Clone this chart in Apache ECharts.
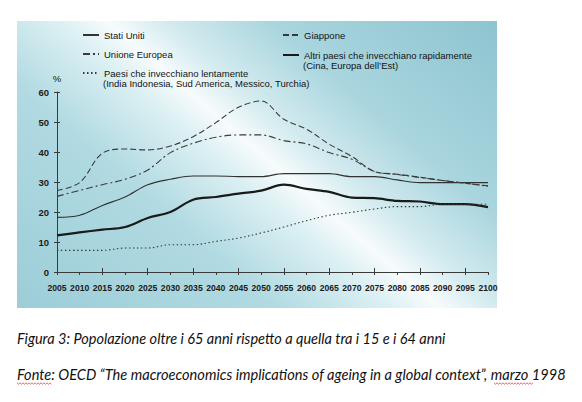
<!DOCTYPE html>
<html>
<head>
<meta charset="utf-8">
<script src="https://cdn.jsdelivr.net/npm/echarts@6/dist/echarts.min.js"></script>
<style>
html,body{margin:0;padding:0;background:#fff;}
#c{width:582px;height:402px;}
</style>
</head>
<body>
<div id="c"></div>
<script>
var years = ['2005','2010','2015','2020','2025','2030','2035','2040','2045','2050','2055','2060','2065','2070','2075','2080','2085','2090','2095','2100'];
var yTicks = [0, 10, 20, 30, 40, 50, 60];
var statiUniti = [18.2,18.9,22.2,25.0,29.1,30.9,32.0,32.0,31.8,31.8,32.8,32.8,32.8,31.8,31.8,30.7,29.8,29.8,29.8,29.8];
var giappone = [27.2,29.8,39.6,41.0,40.7,42.0,45.1,49.8,54.9,57.0,50.9,47.6,42.6,38.5,33.5,32.6,31.6,30.5,29.6,28.7];
var unioneEuropea = [25.2,27.2,29.1,30.9,34.0,39.8,42.9,44.9,45.7,45.7,43.8,42.7,39.8,37.6,33.5,32.5,31.5,30.5,29.6,28.6];
var altriRapidi = [12.2,13.2,14.1,15.0,18.0,20.0,24.1,25.0,26.1,27.1,29.1,27.7,26.7,24.8,24.6,23.7,23.5,22.6,22.6,21.6];
var lentamente = [7.2,7.2,7.2,8.0,8.0,9.1,9.1,10.2,11.3,13.0,15.0,17.1,18.9,19.9,21.0,21.8,21.8,22.6,22.6,22.6];

var names = {
  us: 'Stati Uniti',
  jp: 'Giappone',
  eu: 'Unione Europea',
  rapid: 'Altri paesi che invecchiano rapidamente',
  slow: 'Paesi che invecchiano lentamente'
};
var captions = [
  'Figura 3: Popolazione oltre i 65 anni rispetto a quella tra i 15 e i 64 anni',
  'Fonte: OECD \u201CThe macroeconomics implications of ageing in a global context\u201D, marzo 1998'
];
var subLines = ['(India Indonesia, Sud America, Messico, Turchia)', '(Cina, Europa dell\u2019Est)'];

var FONT = "'Liberation Sans', Arial, sans-serif";
var INK = '#141414';

var chart = echarts.init(document.getElementById('c'), null, {renderer: 'svg'});

function mkLine(name, data, type, width, color) {
  return {
    name: name, type: 'line', data: data, smooth: 0.35,
    symbol: 'none', showSymbol: false, xAxisIndex: 0, yAxisIndex: 0,
    lineStyle: {type: type, width: width, color: color},
    itemStyle: {color: color},
    silent: true
  };
}

// spell-check squiggle decoration under two caption words
function squiggle(x0, x1, y) {
  var pts = [];
  var i = 0;
  for (var x = x0; x <= x1; x += 1.5) { pts.push([x, y + (i % 2 ? 1.2 : -0.2)]); i++; }
  return {type: 'polyline', silent: true, shape: {points: pts},
          style: {stroke: '#e23b3b', lineWidth: 0.8, fill: null}};
}

var legendCommon = {
  orient: 'vertical', itemWidth: 16, itemHeight: 10,
  itemStyle: {opacity: 0, borderWidth: 0},
  textStyle: {fontFamily: FONT, fontSize: 9.5, lineHeight: 10, color: INK},
  selectedMode: false
};

var option = {
  animation: false,
  backgroundColor: '#ffffff',
  graphic: [
    {
      type: 'rect', z: -10, silent: true,
      shape: {x: 17, y: 21, width: 480, height: 287},
      style: {
        fill: {
          type: 'linear', x: -0.04, y: 0.9, x2: 1.11, y2: 0.1,
          colorStops: [
            {offset: 0, color: '#9dced8'},
            {offset: 0.3, color: '#b1dae2'},
            {offset: 0.44, color: '#dcf0f3'},
            {offset: 0.5, color: '#f7fbfc'},
            {offset: 0.57, color: '#d3ebef'},
            {offset: 0.7, color: '#a9d5de'},
            {offset: 1, color: '#8bc3cf'}
          ]
        }
      }
    },
    {type: 'text', left: 103, top: 78, silent: true,
     style: {text: subLines[0], fontFamily: FONT, fontSize: 9.5, fill: INK}},
    {type: 'text', left: 303, top: 60, silent: true,
     style: {text: subLines[1], fontFamily: FONT, fontSize: 9.5, fill: INK}},
    {type: 'text', left: 17, top: 331, silent: true,
     style: {text: captions[0], fontFamily: 'Lato, sans-serif', fontStyle: 'italic', fontSize: 14.5, fill: '#111'}},
    {type: 'text', left: 17, top: 367, silent: true,
     style: {text: captions[1], fontFamily: 'Lato, sans-serif', fontStyle: 'italic', fontSize: 14.6, fill: '#111'}},
    squiggle(17, 52, 383),
    squiggle(494, 533, 383)
  ],
  legend: [
    Object.assign({}, legendCommon, {
      left: 77, top: 25, itemGap: 9,
      data: [names.us, names.eu, names.slow]
    }),
    Object.assign({}, legendCommon, {
      left: 277, top: 25, itemGap: 10,
      data: [names.jp, names.rapid]
    })
  ],
  grid: {left: 57, right: 94, top: 92, bottom: 130},
  xAxis: [
    {
      type: 'category', data: years, boundaryGap: false, position: 'bottom',
      axisLine: {lineStyle: {color: '#3a3a3a', width: 1}},
      axisTick: {show: true, length: 3, alignWithLabel: true, lineStyle: {color: '#3a3a3a'}},
      axisLabel: {interval: 0, margin: 11, fontFamily: FONT, fontWeight: 'bold', fontSize: 8.6, color: '#1a1a1a'},
      splitLine: {show: false}
    },
    {
      type: 'category', data: years, boundaryGap: false, position: 'bottom', offset: 0,
      axisLine: {show: false},
      axisTick: {show: true, inside: true, length: 4, lineStyle: {color: '#3a3a3a'}},
      axisLabel: {show: false},
      splitLine: {show: false}
    }
  ],
  yAxis: [
    {
      type: 'value', min: yTicks[0], max: yTicks[yTicks.length - 1], interval: 10,
      name: '%', nameLocation: 'end', nameGap: 9,
      nameTextStyle: {fontFamily: FONT, fontSize: 9.5, color: INK, align: 'center'},
      axisLine: {show: true, lineStyle: {color: '#3a3a3a', width: 1}},
      axisTick: {show: true, length: 3, lineStyle: {color: '#3a3a3a'}},
      axisLabel: {margin: 8, fontFamily: FONT, fontWeight: 'bold', fontSize: 9.5, color: '#1a1a1a'},
      splitLine: {show: false}
    },
    {
      type: 'value', min: yTicks[0], max: yTicks[yTicks.length - 1], interval: 10,
      position: 'left', offset: 0,
      axisLine: {show: false},
      axisTick: {show: true, inside: true, length: 3, lineStyle: {color: '#3a3a3a'}},
      axisLabel: {show: false},
      splitLine: {show: false}
    }
  ],
  series: [
    mkLine(names.us, statiUniti, 'solid', 1.1, '#333333'),
    mkLine(names.jp, giappone, [6, 3], 1.1, '#3a3a3a'),
    mkLine(names.eu, unioneEuropea, [7, 3, 2, 3], 1.1, '#3a3a3a'),
    mkLine(names.rapid, altriRapidi, 'solid', 2.2, '#1a1a1a'),
    mkLine(names.slow, lentamente, [1.5, 2.5], 1.1, '#3a3a3a')
  ]
};
chart.setOption(option);
</script>
</body>
</html>
